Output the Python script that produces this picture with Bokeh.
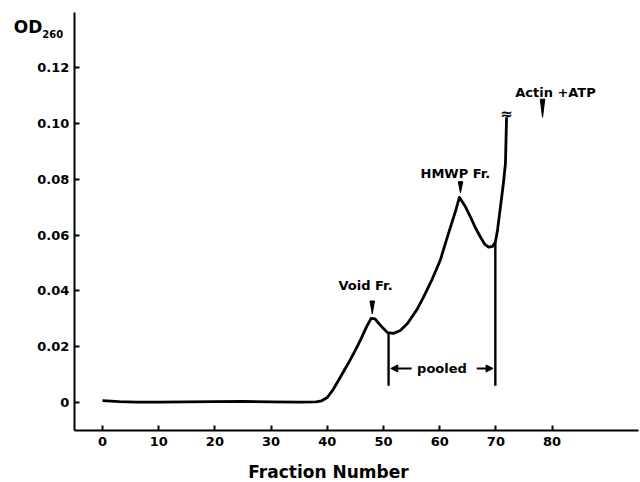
from bokeh.plotting import figure
from bokeh.models import FixedTicker, Arrow, NormalHead
from bokeh.core.properties import value
from bokeh.embed import file_html
from bokeh.resources import INLINE

# ---- data ----
fraction = [0, 3, 6, 10, 15, 20, 25, 30, 35, 38.0, 39.0, 40.0, 41.0, 42.0, 43.0, 44.0, 45.0,
            46.0, 47.0, 47.8, 48.5, 49.1, 50.0, 50.7, 51.8, 53.0, 54.3, 56.0, 57.1, 58.5, 60.1,
            61.0, 61.9, 62.8, 63.5, 64.5, 65.5, 66.4, 67.3, 68.0, 68.7, 69.4, 69.9, 70.3, 70.8,
            71.3, 71.7, 71.9]
od280 = [0.0007, 0.0003, 0.0001, 0.0001, 0.0002, 0.0003, 0.0004, 0.0002, 0.0001, 0.0002, 0.0006,
         0.0018, 0.0045, 0.0080, 0.0115, 0.0150, 0.0188, 0.0228, 0.0272, 0.0302, 0.0300, 0.0285,
         0.0265, 0.0251, 0.0248, 0.0258, 0.0284, 0.0335, 0.0377, 0.0435, 0.051, 0.057, 0.0628,
         0.0685, 0.0736, 0.0705, 0.0664, 0.0625, 0.0592, 0.0568, 0.0557, 0.0560, 0.0575, 0.0620,
         0.0700, 0.0780, 0.0858, 0.1023]

x_ticks = [0, 10, 20, 30, 40, 50, 60, 70, 80]
y_ticks = [0, 0.02, 0.04, 0.06, 0.08, 0.1, 0.12]
y_tick_labels = ["0", "0.02", "0.04", "0.06", "0.08", "0.10", "0.12"]
x_axis_extent = (-5, 95.4)
y_axis_extent = (-0.01, 0.14)

# peak annotations
peak_names = ["Void Fr.", "HMWP Fr.", "Actin +ATP"]
peak_label_x = [46.8, 62.8, 80.6]
peak_label_y = [0.0420, 0.0822, 0.1113]
peak_arrow_x = [48.0, 63.7, 78.3]
peak_arrow_top = [0.0364, 0.0792, 0.1088]
peak_arrow_tip = [0.0318, 0.0752, 0.1023]

# pooled fractions
pool_x = [50.9, 69.9]
pool_top = [0.0248, 0.0575]
pool_bottom = [0.0060, 0.0060]
pool_arrow_start = [55.0, 66.6]
pool_arrow_end = [51.3, 69.5]
pool_label_y = 0.0122

# axis titles (positions in data units)
od_pos = (-15.8, 0.1346)
od_sub_pos = (-10.7, 0.1322)
xtitle_pos = (40.2, -0.0248)

FONT = "DejaVu Sans"

p = figure(width=640, height=482, x_range=(-18.15, 95.73), y_range=(-0.0287, 0.1442),
           output_backend="svg", toolbar_location=None,
           min_border_left=0, min_border_right=0, min_border_top=0, min_border_bottom=0)
p.outline_line_color = None
p.grid.visible = False
p.background_fill_color = "white"
p.border_fill_color = "white"

for ax in (p.xaxis[0], p.yaxis[0]):
    ax.axis_line_width = 2
    ax.axis_line_color = "black"
    ax.major_tick_in = 5
    ax.major_tick_out = 0
    ax.major_tick_line_width = 2
    ax.minor_tick_line_color = None
    ax.major_label_text_font = FONT
    ax.major_label_text_font_style = "bold"
    ax.major_label_text_font_size = "13px"
    ax.major_label_text_color = "black"

p.xaxis.ticker = FixedTicker(ticks=x_ticks)
p.xaxis.major_label_standoff = 7
p.xaxis.fixed_location = y_axis_extent[0]
p.xaxis.bounds = x_axis_extent
p.yaxis.ticker = FixedTicker(ticks=y_ticks)
p.yaxis.major_label_overrides = dict(zip(y_ticks, y_tick_labels))
p.yaxis.major_label_standoff = 5
p.yaxis.fixed_location = x_axis_extent[0]
p.yaxis.bounds = y_axis_extent

# elution curve
p.line(fraction, od280, line_width=2.8, line_color="black", line_join="round")

# break symbol at top of curve
p.text(x=[fraction[-1]], y=[od280[-1] + 0.0012], text=["≈"], text_font=value(FONT),
       text_font_style="bold", text_font_size="15px", text_align="center",
       text_baseline="middle", text_color="black")

# peak labels and arrows
p.text(x=peak_label_x, y=peak_label_y, text=peak_names, text_font=value(FONT),
       text_font_style="bold", text_font_size="13px", text_align="center",
       text_baseline="middle", text_color="black")
half_w = 0.4
xs = [[ax - half_w, ax + half_w, ax] for ax in peak_arrow_x]
ys = [[t, t, tip] for t, tip in zip(peak_arrow_top, peak_arrow_tip)]
p.patches(xs, ys, fill_color="black", line_color="black", line_width=1)

# pooled region
p.segment(x0=pool_x, y0=pool_bottom, x1=pool_x, y1=pool_top, line_width=2.4, line_color="black")
for s, e in zip(pool_arrow_start, pool_arrow_end):
    p.add_layout(Arrow(x_start=s, y_start=pool_label_y, x_end=e, y_end=pool_label_y,
                       line_width=2, line_color="black",
                       end=NormalHead(size=7, fill_color="black", line_color="black")))
p.text(x=[(pool_x[0] + pool_x[1]) / 2], y=[pool_label_y], text=["pooled"], text_font=value(FONT),
       text_font_style="bold", text_font_size="13px", text_align="center",
       text_baseline="middle", text_color="black")

# axis titles
p.text(x=[od_pos[0]], y=[od_pos[1]], text=["OD"], text_font=value(FONT),
       text_font_style="bold", text_font_size="17px", text_align="left",
       text_baseline="middle", text_color="black")
p.text(x=[od_sub_pos[0]], y=[od_sub_pos[1]], text=["260"], text_font=value(FONT),
       text_font_style="bold", text_font_size="10px", text_align="left",
       text_baseline="middle", text_color="black")
p.text(x=[xtitle_pos[0]], y=[xtitle_pos[1]], text=["Fraction Number"], text_font=value(FONT),
       text_font_style="bold", text_font_size="17px", text_align="center",
       text_baseline="middle", text_color="black")

open("out.html", "w").write(file_html(p, INLINE))
